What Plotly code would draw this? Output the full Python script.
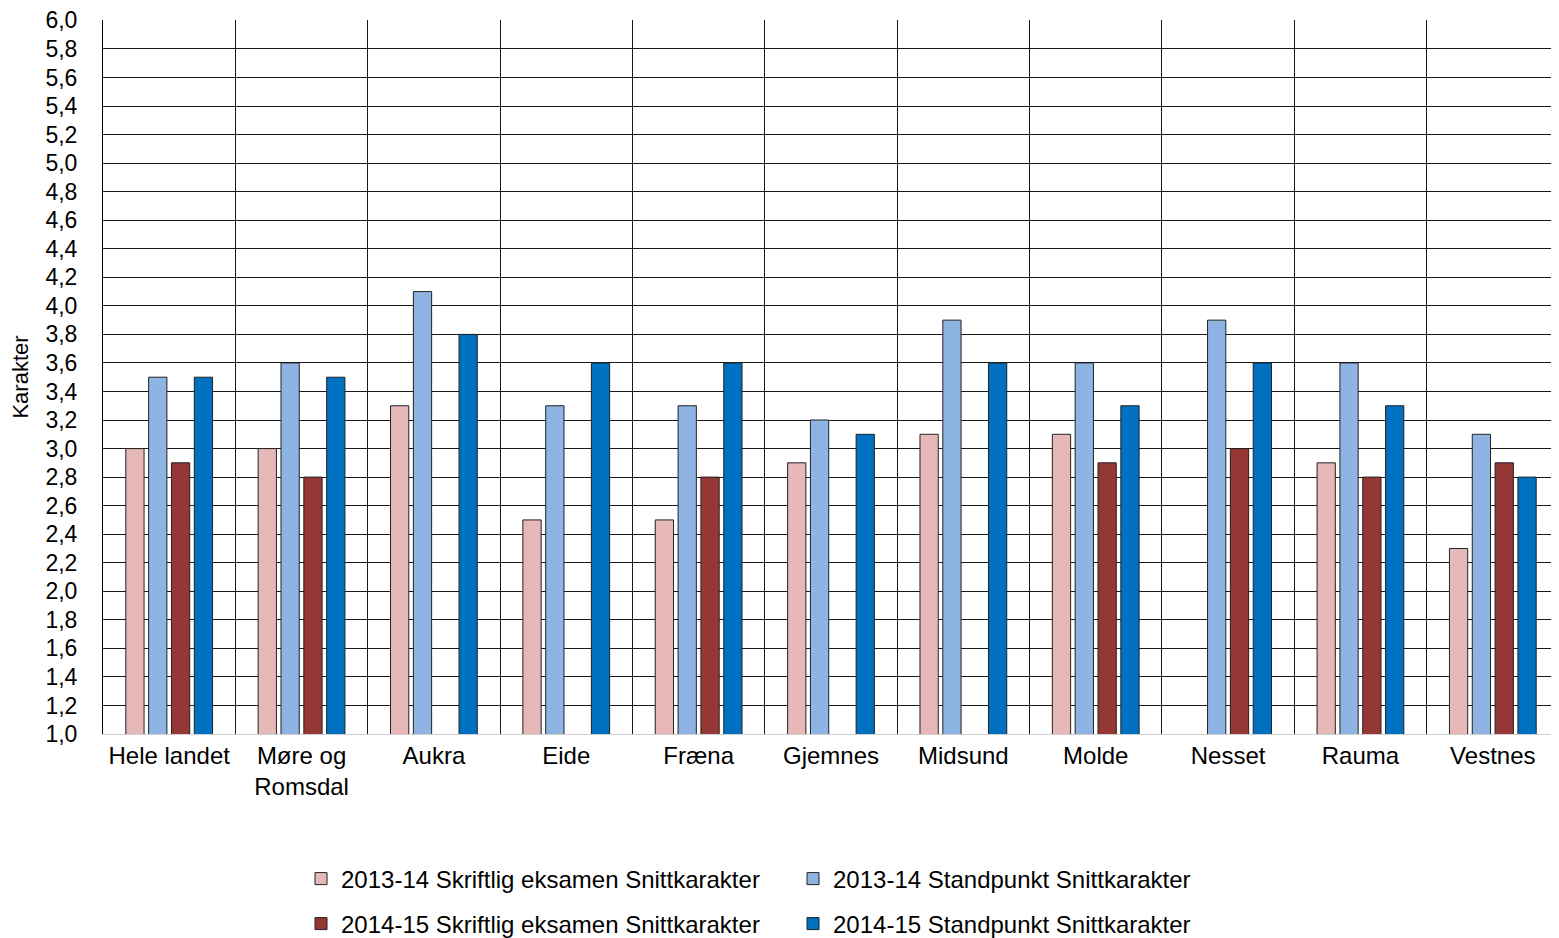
import plotly.graph_objects as go

# ── data ─────────────────────────────────────────────────────
kommuner = ["Hele landet", "Møre og<br>Romsdal", "Aukra", "Eide", "Fræna",
            "Gjemnes", "Midsund", "Molde", "Nesset", "Rauma", "Vestnes"]

skriftlig_1314 = [3.0, 3.0, 3.3, 2.5, 2.5, 2.9, 3.1, 3.1, None, 2.9, 2.3]
standpunkt_1314 = [3.5, 3.6, 4.1, 3.3, 3.3, 3.2, 3.9, 3.6, 3.9, 3.6, 3.1]
skriftlig_1415 = [2.9, 2.8, None, None, 2.8, None, None, 2.9, 3.0, 2.8, 2.9]
standpunkt_1415 = [3.5, 3.5, 3.8, 3.6, 3.6, 3.1, 3.6, 3.3, 3.6, 3.3, 2.8]

y_ticks = [round(1.0 + 0.2 * i, 1) for i in range(26)]

# (name, values, colour, legend row)
series = [
    ("2013-14 Skriftlig eksamen Snittkarakter", skriftlig_1314, "#E6B9B8", "legend"),
    ("2013-14 Standpunkt Snittkarakter", standpunkt_1314, "#8EB4E3", "legend"),
    ("2014-15 Skriftlig eksamen Snittkarakter", skriftlig_1415, "#953735", "legend2"),
    ("2014-15 Standpunkt Snittkarakter", standpunkt_1415, "#0070C0", "legend2"),
]

fig = go.Figure()
for name, vals, color, leg in series:
    fig.add_trace(go.Bar(
        x=kommuner, y=vals, name=name, legend=leg,
        marker=dict(color=color, line=dict(color="#222222", width=1)),
    ))

# the page body adds an 8px offset, so margins are shifted by 8px
_LEG = dict(
    orientation="h", x=0.136, xanchor="left", yanchor="middle",
    yref="container", entrywidth=447, entrywidthmode="pixels",
    font=dict(size=24), itemwidth=30, traceorder="normal",
    bgcolor="rgba(0,0,0,0)",
)

fig.update_layout(
    width=1559, height=938,
    paper_bgcolor="white", plot_bgcolor="white",
    font=dict(family="Liberation Sans, Arial", color="#000000", size=22),
    margin=dict(l=95, r=8, t=12, b=212),
    barmode="group", bargap=0.31, bargroupgap=0.2,
    separators=", ",
    showlegend=True,
    legend=dict(**_LEG, y=1 - 871 / 938),
    legend2=dict(**_LEG, y=1 - 916 / 938),
    xaxis=dict(
        type="category", tickson="boundaries", automargin=False,
        showgrid=True, gridcolor="#1a1a1a", gridwidth=1,
        ticks="", tickfont=dict(size=24),
        showline=True, linecolor="#D0D0D0", linewidth=1,
    ),
    yaxis=dict(
        range=[1.0, 6.003], tickvals=y_ticks, tickformat=".1f", automargin=False,
        showgrid=True, gridcolor="#1a1a1a", gridwidth=1,
        ticks="", tickfont=dict(size=23), ticklabelstandoff=20,
        ticklabeloverflow="allow",
        showline=True, linecolor="#000000", linewidth=1,
        zeroline=False,
        title=dict(text="Karakter", font=dict(size=22), standoff=10),
    ),
)

fig.write_html("out.html")
